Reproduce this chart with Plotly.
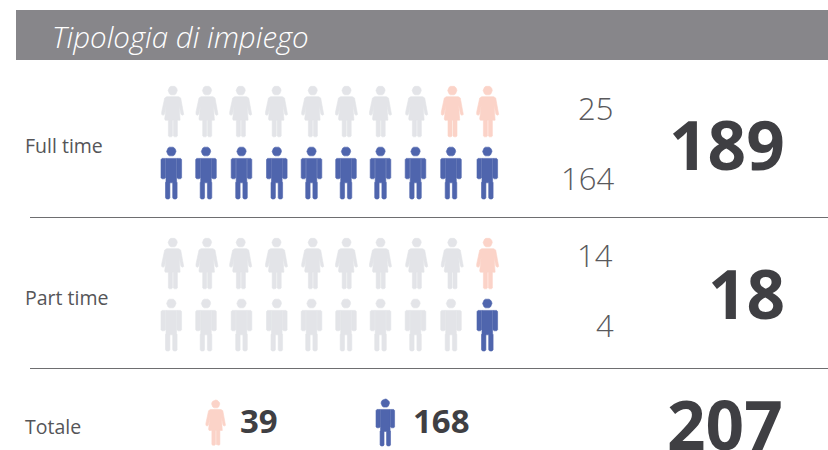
import plotly.graph_objects as go

# ---------- data ----------
title = "Tipologia di impiego"
categories = ["Full time", "Part time"]
women_values = [25, 14]
men_values = [164, 4]
row_totals = [189, 18]
total_label = "Totale"
total_women = 39
total_men = 168
grand_total = 207
women_icons_coloured = [2, 1]
men_icons_coloured = [10, 1]
icons_per_row = 10

# ---------- style ----------
W, H = 828, 450
PINK, BLUE, GREY = "#fbd3c8", "#4f65ad", "#e3e4e8"
DARK, MID = "#3f3f43", "#555558"
BAND = "#87868a"
FONT = "Open Sans"
women_x = [172.7, 207, 240.7, 276.5, 312.7, 346.5, 380.5, 416.7, 452.3, 487.7]
men_x = [171.3, 206, 241.5, 276.8, 311.5, 346, 380.5, 415.5, 451, 487.3]
row_step = 152
women_top, men_top = 86, 146.8

# icon outlines, relative to (centre x, head top)
FEMALE = [[(-6, 10.7), (6, 10.7), (8, 12), (11, 26), (11, 28.5), (9.3, 29.3), (8.2, 28), (6.4, 19.5),
           (8, 33), (7.4, 34.2), (4.7, 34.2), (4.7, 50), (3.7, 50.8), (1.7, 50.8), (0.7, 50), (0.7, 34.2),
           (-0.3, 34.2), (-0.3, 50), (-1.3, 50.8), (-3.3, 50.8), (-4.3, 50), (-4.3, 34.2), (-7.4, 34.2),
           (-8, 33), (-6.4, 19.5), (-8.2, 28), (-9.3, 29.3), (-11, 28.5), (-11, 26), (-8, 12)]]
MALE = [[(-5.3, 11.6), (5.3, 11.6), (5.3, 35.5), (5.8, 35.5), (5.8, 51), (4.8, 52.2), (2.4, 52.2), (1.4, 51), (1.4, 36),
         (-1.4, 36), (-1.4, 51), (-2.4, 52.2), (-4.8, 52.2), (-5.8, 51), (-5.8, 35.5), (-5.3, 35.5)],
        [(-5.7, 11.6), (-9.3, 11.6), (-10.3, 12.8), (-10.3, 31), (-9.3, 32), (-7, 32), (-5.7, 31)],
        [(5.7, 11.6), (9.3, 11.6), (10.3, 12.8), (10.3, 31), (9.3, 32), (7, 32), (5.7, 31)]]
CIRCLE = [(-1, 0), (-0.92, 0.38), (-0.71, 0.71), (-0.38, 0.92), (0, 1), (0.38, 0.92), (0.71, 0.71), (0.92, 0.38),
          (1, 0), (0.92, -0.38), (0.71, -0.71), (0.38, -0.92), (0, -1), (-0.38, -0.92), (-0.71, -0.71), (-0.92, -0.38)]


def icon(outline, cx, top, r, scale=1.0):
    xs, ys = [], []
    for poly in outline:
        for px, py in poly + poly[:1]:
            xs.append(cx + px * scale)
            ys.append(top + py * scale)
        xs.append(None)
        ys.append(None)
    for px, py in CIRCLE + CIRCLE[:1]:
        xs.append(cx + px * r * scale)
        ys.append(top + (r + py * r) * scale)
    xs.append(None)
    ys.append(None)
    return xs, ys


buckets = {PINK: ([], []), BLUE: ([], []), GREY: ([], [])}


def add(colour, outline, cx, top, r, scale=1.0):
    xs, ys = icon(outline, cx, top, r, scale)
    buckets[colour][0].extend(xs)
    buckets[colour][1].extend(ys)


for row in range(len(categories)):
    for i in range(icons_per_row):
        w_col = PINK if i >= icons_per_row - women_icons_coloured[row] else GREY
        m_col = BLUE if i >= icons_per_row - men_icons_coloured[row] else GREY
        add(w_col, FEMALE, women_x[i], women_top + row * row_step, 4.6)
        add(m_col, MALE, men_x[i], men_top + row * row_step, 4.7)
add(PINK, FEMALE, 215.7, 400, 4.6, 0.89)
add(BLUE, MALE, 385.3, 399, 4.7, 0.9)

fig = go.Figure()
for colour, (xs, ys) in buckets.items():
    fig.add_trace(go.Scatter(x=xs, y=ys, mode="lines", fill="toself", fillcolor=colour,
                             line=dict(color=colour, width=0.6), hoverinfo="skip", showlegend=False))


def label(x, y, text, size, color=DARK, anchor="left", weight=400, style="normal"):
    fig.add_annotation(x=x, y=y, xref="x", yref="y", text=text, showarrow=False, xanchor=anchor, yanchor="middle",
                       font=dict(family=FONT, size=size, color=color, weight=weight, style=style),
                       borderpad=0, borderwidth=0)


label(52, 36, title, 29.5, "#ffffff", weight=300, style="italic")
for row, cat in enumerate(categories):
    dy = row * row_step
    label(25, 145 + dy, cat, 19.5, MID, weight=400)
    label(613, 108 + (row * 147), str(women_values[row]), 31, "#59595c", "right", 300)
    label(614, 178 + (row * 147), str(men_values[row]), 31, "#59595c", "right", 300)
    label(785, 144 + row * 149, str(row_totals[row]), 67.5, DARK, "right", 700)
label(25, 426, total_label, 19.5, MID, weight=400)
label(240, 420, str(total_women), 33, DARK, weight=700)
label(413, 420, str(total_men), 33, DARK, weight=700)
label(783, 424, str(grand_total), 67.5, DARK, "right", 700)

shapes = [dict(type="rect", xref="x", yref="y", x0=16, x1=W, y0=10, y1=60, fillcolor=BAND, line_width=0, layer="below"),
          dict(type="line", xref="x", yref="y", x0=30, x1=W, y0=217.5, y1=217.5, line=dict(color="#6e6e70", width=1)),
          dict(type="line", xref="x", yref="y", x0=30, x1=W, y0=368.5, y1=368.5, line=dict(color="#6e6e70", width=1))]

fig.update_layout(width=W, height=H, margin=dict(l=0, r=0, t=0, b=0), paper_bgcolor="white", plot_bgcolor="white",
                  shapes=shapes,
                  xaxis=dict(range=[0, W], visible=False, fixedrange=True),
                  yaxis=dict(range=[H, 0], visible=False, fixedrange=True))
fig.write_html("out.html", config={"displayModeBar": False},
               post_script="document.body.style.margin='0';document.body.style.overflow='hidden';")
